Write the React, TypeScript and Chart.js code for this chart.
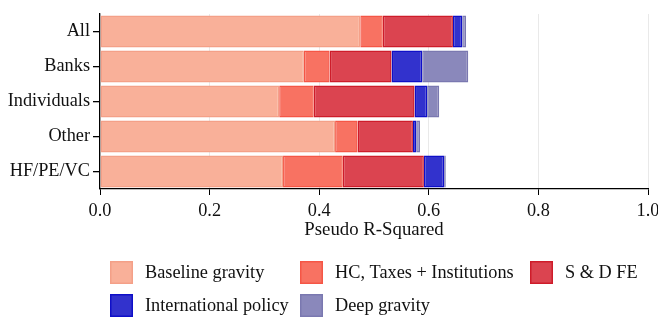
import React, { useEffect, useRef } from "react";
import { Chart, registerables } from "chart.js";

Chart.register(...registerables);

const categories = ["All", "Banks", "Individuals", "Other", "HF/PE/VC"];
const seriesNames = [
  "Baseline gravity",
  "HC, Taxes + Institutions",
  "S & D FE",
  "International policy",
  "Deep gravity",
];
const baselineGravity = [0.475, 0.372, 0.327, 0.429, 0.334];
const hcTaxesInstitutions = [0.041, 0.047, 0.063, 0.041, 0.109];
const sdFE = [0.128, 0.113, 0.184, 0.101, 0.148];
const internationalPolicy = [0.017, 0.056, 0.023, 0.006, 0.037];
const deepGravity = [0.007, 0.084, 0.022, 0.007, 0.003];
const xTickValues = [0, 0.2, 0.4, 0.6, 0.8, 1.0];

const fills = [
  "rgb(249,176,153)",
  "rgb(248,114,98)",
  "rgb(219,68,80)",
  "rgb(50,50,205)",
  "rgb(138,136,187)",
];
const borders = [
  "rgb(244,160,136)",
  "rgb(245,86,70)",
  "rgb(206,28,42)",
  "rgb(15,15,200)",
  "rgb(122,120,176)",
];

const FONT = "'Liberation Serif', 'Times New Roman', serif";

export default function App() {
  const ref = useRef<HTMLCanvasElement>(null);

  useEffect(() => {
    if (!ref.current) return;
    const seriesValues = [
      baselineGravity,
      hcTaxesInstitutions,
      sdFE,
      internationalPolicy,
      deepGravity,
    ];

    const legendPlugin = {
      id: "gridLegend",
      afterDraw(chart: any) {
        const ctx = chart.ctx;
        ctx.save();
        const cols = [110, 300, 530];
        const rows = [272.5, 305.5];
        chart.data.datasets.forEach((ds: any, i: number) => {
          const x = cols[i % 3];
          const cy = rows[Math.floor(i / 3)];
          ctx.fillStyle = ds.backgroundColor;
          ctx.fillRect(x, cy - 11.5, 23, 23);
          ctx.strokeStyle = ds.borderColor;
          ctx.lineWidth = 1.5;
          ctx.strokeRect(x + 0.75, cy - 10.75, 21.5, 21.5);
          ctx.fillStyle = "#111";
          ctx.font = `18.3px ${FONT}`;
          ctx.textBaseline = "middle";
          ctx.textAlign = "left";
          ctx.fillText(ds.label, x + 35, cy + 1);
        });
        ctx.restore();
      },
    };

    const chart = new Chart(ref.current, {
      type: "bar",
      data: {
        labels: categories,
        datasets: seriesNames.map((name, i) => ({
          label: name,
          data: seriesValues[i],
          backgroundColor: fills[i],
          borderColor: borders[i],
          borderWidth: 1.5,
          borderSkipped: false,
          barPercentage: 0.92,
          categoryPercentage: 1.0,
        })),
      },
      plugins: [legendPlugin],
      options: {
        responsive: false,
        animation: false,
        indexAxis: "y",
        layout: { padding: { left: 0, right: 24, top: 9, bottom: 79 } },
        plugins: {
          legend: { display: false },
          tooltip: { enabled: false },
        },
        scales: {
          x: {
            type: "linear",
            min: 0,
            max: 1,
            stacked: true,
            afterBuildTicks: (s: any) => {
              s.ticks = xTickValues.map((v) => ({ value: v }));
            },
            afterFit: (s: any) => {
              s.height = 52;
            },
            ticks: {
              callback: (v: any) => Number(v).toFixed(1),
              font: { family: FONT, size: 18.3 },
              color: "#111",
              padding: 5,
              maxRotation: 0,
              autoSkip: false,
            },
            grid: {
              color: "#e9e9e9",
              lineWidth: 1,
              tickColor: "#000",
              tickLength: 6,
            },
            border: { color: "#000", width: 1.3 },
            title: {
              display: true,
              text: "Pseudo R-Squared",
              font: { family: FONT, size: 18.8 },
              color: "#111",
              padding: 0,
            },
          },
          y: {
            type: "category",
            stacked: true,
            afterFit: (s: any) => {
              s.width = 100;
            },
            ticks: {
              font: { family: FONT, size: 18.3 },
              color: "#111",
              padding: 3,
            },
            grid: {
              offset: false,
              drawOnChartArea: false,
              tickColor: "#000",
              tickLength: 7,
              lineWidth: 1.3,
            },
            border: { color: "#000", width: 1.3 },
          },
        },
      } as any,
    });

    return () => chart.destroy();
  }, []);

  return (
    <div
      style={{
        position: "fixed",
        left: 0,
        top: 0,
        width: 658,
        height: 320,
        overflow: "hidden",
        background: "#fff",
      }}
    >
      <canvas
        ref={ref}
        width={672}
        height={320}
        style={{ width: 672, height: 320, display: "block" }}
      />
    </div>
  );
}
